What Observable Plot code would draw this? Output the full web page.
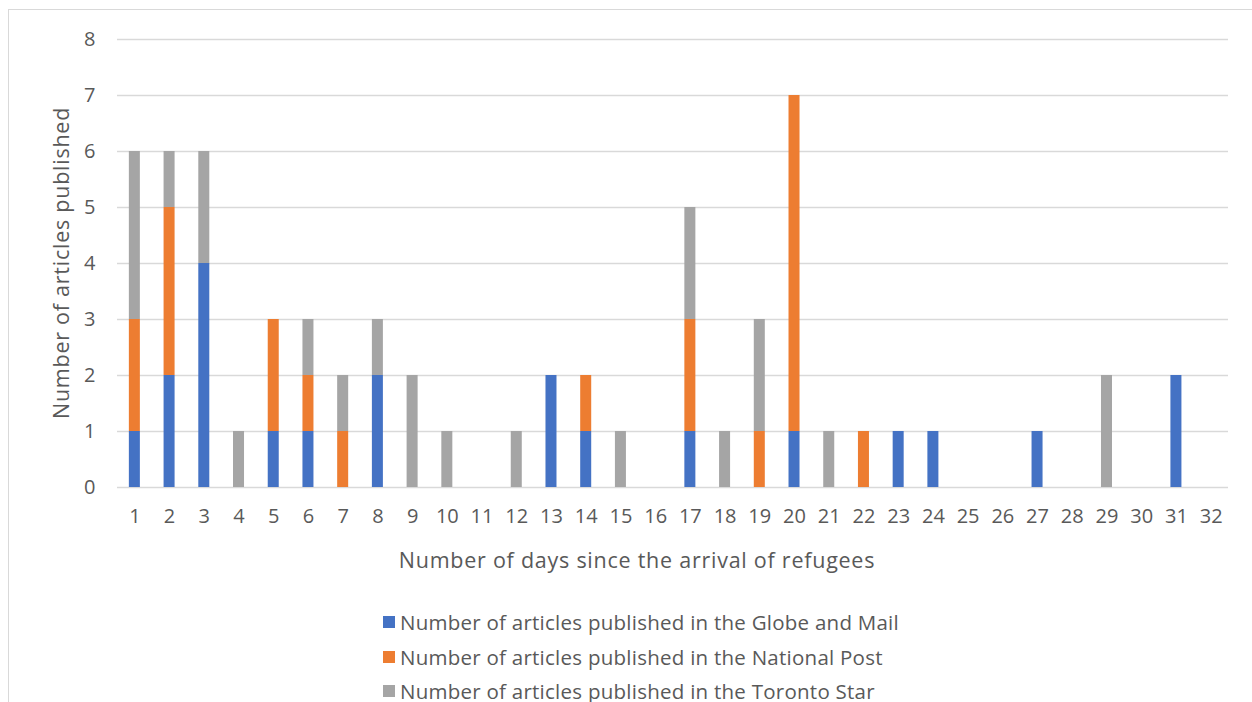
<!DOCTYPE html>
<html>
<head>
<meta charset="utf-8">
<script src="https://cdn.jsdelivr.net/npm/d3@7"></script>
<script src="https://cdn.jsdelivr.net/npm/@observablehq/plot@0.6"></script>
<style>
  html, body { margin: 0; padding: 0; background: #fff; overflow: hidden; }
  body { width: 1252px; height: 702px; position: relative; font-family: "Open Sans", sans-serif; color: #595959; }
  #frame { position: absolute; left: 8px; top: 9px; width: 1300px; height: 760px; border: 1.5px solid #d9d9d9; box-sizing: border-box; }
  #chart { position: absolute; left: 0; top: 0; }
  #xtitle { position: absolute; left: 0; width: 1274px; top: 545px; text-align: center; font-size: 21.5px; letter-spacing: 0.75px; white-space: nowrap; line-height: 30px; }
  #ytitle { position: absolute; left: 61px; top: 263px; transform: translate(-50%, -50%) rotate(-90deg); font-size: 21.5px; letter-spacing: 0.75px; white-space: nowrap; line-height: 30px; }
  #legend { position: absolute; left: 383px; top: 605px; font-size: 20.5px; letter-spacing: 0.25px; }
  .row { height: 34.5px; display: flex; align-items: center; white-space: nowrap; }
  .sw { width: 12px; height: 12px; margin-right: 5px; display: inline-block; }
</style>
</head>
<body>
<div id="frame"></div>
<div id="chart"></div>
<div id="xtitle">Number of days since the arrival of refugees</div>
<div id="ytitle">Number of articles published</div>
<div id="legend"></div>
<script>
const days = d3.range(1, 33);
const series = [
  "Number of articles published in the Globe and Mail",
  "Number of articles published in the National Post",
  "Number of articles published in the Toronto Star"
];
const colors = ["#4472C4", "#ED7D31", "#A5A5A5"];
//                 1  2  3  4  5  6  7  8  9 10 11 12 13 14 15 16 17 18 19 20 21 22 23 24 25 26 27 28 29 30 31 32
const globeAndMail = [1, 2, 4, 0, 1, 1, 0, 2, 0, 0, 0, 0, 2, 1, 0, 0, 1, 0, 0, 1, 0, 0, 1, 1, 0, 0, 1, 0, 0, 0, 2, 0];
const nationalPost = [2, 3, 0, 0, 2, 1, 1, 0, 0, 0, 0, 0, 0, 1, 0, 0, 2, 0, 1, 6, 0, 1, 0, 0, 0, 0, 0, 0, 0, 0, 0, 0];
const torontoStar  = [3, 1, 2, 1, 0, 1, 1, 1, 2, 1, 0, 1, 0, 0, 1, 0, 2, 1, 2, 0, 1, 0, 0, 0, 0, 0, 0, 0, 2, 0, 0, 0];
const yTicks = [0, 1, 2, 3, 4, 5, 6, 7, 8];

const values = [globeAndMail, nationalPost, torontoStar];
const data = [];
series.forEach((s, si) => {
  days.forEach((d, di) => {
    data.push({day: d, series: s, value: values[si][di]});
  });
});

const plot = Plot.plot({
  width: 1252,
  height: 580,
  marginLeft: 117,
  marginRight: 24,
  marginTop: 39,
  marginBottom: 93,
  style: {fontFamily: "Open Sans, sans-serif", fontSize: "20px", color: "#595959", background: "transparent"},
  x: {type: "band", domain: days, paddingInner: 0.683, paddingOuter: 0.3415, round: false, label: null},
  y: {domain: [0, 8], label: null},
  color: {domain: series, range: colors},
  marks: [
    Plot.ruleY(yTicks, {stroke: "#d9d9d9", strokeWidth: 1.5}),
    Plot.barY(data, {x: "day", y: "value", fill: "series", order: series}),
    Plot.axisY({ticks: yTicks, tickSize: 0, tickPadding: 22, label: null, fill: "#595959", fontSize: 20}),
    Plot.axisX({tickSize: 0, tickPadding: 21, label: null, fill: "#595959", fontSize: 20})
  ]
});
document.getElementById("chart").appendChild(plot);

const legend = document.getElementById("legend");
series.forEach((s, i) => {
  const row = document.createElement("div");
  row.className = "row";
  const sw = document.createElement("span");
  sw.className = "sw";
  sw.style.background = colors[i];
  row.appendChild(sw);
  const t = document.createElement("span");
  t.textContent = s;
  row.appendChild(t);
  legend.appendChild(row);
});
</script>
</body>
</html>
